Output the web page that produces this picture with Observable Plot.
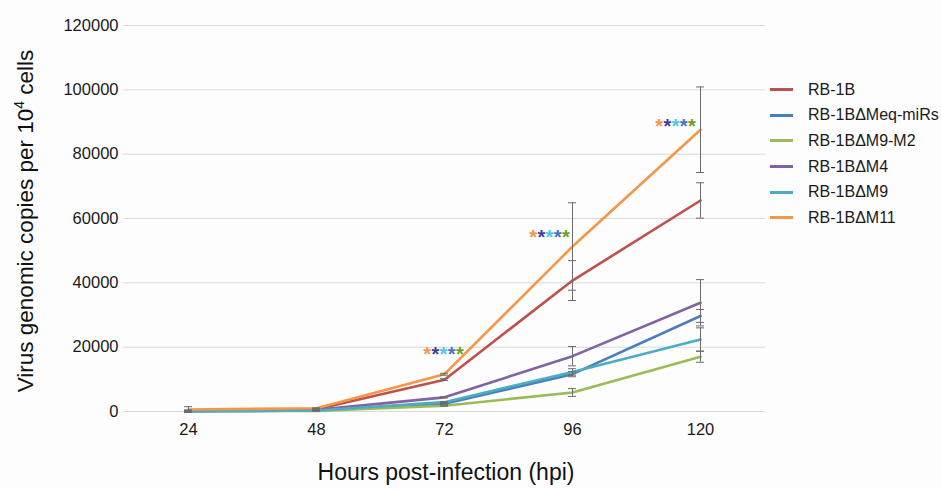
<!DOCTYPE html>
<html>
<head>
<meta charset="utf-8">
<script src="https://cdn.jsdelivr.net/npm/d3@7"></script>
<script src="https://cdn.jsdelivr.net/npm/@observablehq/plot@0.6"></script>
<style>
  html, body { margin: 0; padding: 0; background: #fdfdfd; }
  #wrap { position: relative; width: 941px; height: 489px; font-family: "Liberation Sans", Arial, sans-serif; }
  #wrap svg { position: absolute; left: 0; top: 0; }
  .ylab { position: absolute; left: 26px; top: 221px; transform: translate(-50%, -50%) rotate(-90deg); white-space: nowrap; font-size: 22.5px; color: #111; }
  .ylab sup { font-size: 14px; vertical-align: 9px; line-height: 0; }
  .xlab { position: absolute; left: 446px; top: 472px; transform: translate(-50%, -50%); white-space: nowrap; font-size: 23px; color: #111; }
  .legend { position: absolute; left: 770px; top: 77px; font-size: 16px; color: #1a1a1a; }
  .legend .row { display: flex; align-items: center; height: 25.6px; }
  .legend .sw { width: 23px; height: 3px; margin-right: 15px; }
</style>
</head>
<body>
<div id="wrap"></div>
<script>
const times = ["24", "48", "72", "96", "120"];
const seriesNames = ["RB-1B", "RB-1BΔMeq-miRs", "RB-1BΔM9-M2", "RB-1BΔM4", "RB-1BΔM9", "RB-1BΔM11"];
const seriesColors = ["#C0504D", "#4A7EBB", "#9BBB59", "#8064A2", "#4BACC6", "#F79646"];

const valRB1B   = [400, 700, 9900, 40700, 65600];
const valMeq    = [100, 300, 2400, 11600, 29700];
const valM9M2   = [100, 200, 1800, 5900, 17000];
const valM4     = [200, 500, 4400, 17200, 33800];
const valM9     = [100, 300, 2900, 12300, 22400];
const valM11    = [600, 1000, 11600, 51300, 87600];

const errRB1B   = [100, 100, 300, 6200, 5500];
const errMeq    = [50, 50, 150, 800, 2000];
const errM9M2   = [50, 50, 150, 1200, 1700];
const errM4     = [50, 100, 200, 3000, 7200];
const errM9     = [50, 50, 150, 1000, 3600];
const errM11    = [900, 150, 300, 13600, 13300];

const allVals = [valRB1B, valMeq, valM9M2, valM4, valM9, valM11];
const allErrs = [errRB1B, errMeq, errM9M2, errM4, errM9, errM11];

const sigTimes = ["72", "96", "120"];
const sigY = [19300, 55700, 90200];
const sigShift = [-1, -23, -25];
const starColors = ["#F79646", "#3F3D99", "#4BC8E8", "#4472C4", "#6AA121"];

const yTicks = [0, 20000, 40000, 60000, 80000, 100000, 120000];

const rows = [];
seriesNames.forEach((s, i) => {
  times.forEach((t, j) => {
    rows.push({series: s, x: t, y: allVals[i][j], lo: allVals[i][j] - allErrs[i][j], hi: allVals[i][j] + allErrs[i][j]});
  });
});

const stars = sigTimes.map((t, k) => ({x: t, y: sigY[k]}));

const marks = [
  Plot.gridY(yTicks, {stroke: "#d9d9d9", strokeOpacity: 1, strokeWidth: 1}),
  Plot.axisY(yTicks, {tickSize: 0, tickPadding: 5, fontSize: 16.5, fill: "#1a1a1a", label: null, tickFormat: d => String(d)}),
  Plot.axisX(times, {tickSize: 0, tickPadding: 12, fontSize: 16.5, fill: "#1a1a1a", label: null}),
  Plot.line(rows, {x: "x", y: "y", z: "series", stroke: "series", strokeWidth: 2.6, curve: "linear"}),
  Plot.ruleX(rows, {x: "x", y1: "lo", y2: "hi", stroke: "#6b6b6b", strokeWidth: 1}),
  Plot.ruleY(rows, {y: "lo", x1: "x", x2: "x", insetLeft: -4, insetRight: -4, stroke: "#6b6b6b", strokeWidth: 1}),
  Plot.ruleY(rows, {y: "hi", x1: "x", x2: "x", insetLeft: -4, insetRight: -4, stroke: "#6b6b6b", strokeWidth: 1})
];

sigTimes.forEach((t, k) => {
  starColors.forEach((c, i) => {
    marks.push(Plot.text([stars[k]], {x: "x", y: "y", text: () => "*", fill: c, fontSize: 20, fontWeight: "bold", dx: sigShift[k] + (i - 2) * 8.2, dy: 5}));
  });
});

const chart = Plot.plot({
  width: 941,
  height: 489,
  marginLeft: 123,
  marginRight: 176,
  marginTop: 25,
  marginBottom: 78,
  style: {fontFamily: "'Liberation Sans', Arial, sans-serif", background: "transparent"},
  x: {type: "point", domain: times, padding: 0.5},
  y: {domain: [0, 120000]},
  color: {domain: seriesNames, range: seriesColors},
  marks
});

const wrap = document.getElementById("wrap");
wrap.appendChild(chart);

const yl = document.createElement("div");
yl.className = "ylab";
yl.innerHTML = "Virus genomic copies per 10<sup>4</sup> cells";
wrap.appendChild(yl);

const xl = document.createElement("div");
xl.className = "xlab";
xl.textContent = "Hours post-infection (hpi)";
wrap.appendChild(xl);

const lg = document.createElement("div");
lg.className = "legend";
seriesNames.forEach((s, i) => {
  const r = document.createElement("div");
  r.className = "row";
  const sw = document.createElement("span");
  sw.className = "sw";
  sw.style.background = seriesColors[i];
  const tx = document.createElement("span");
  tx.textContent = s;
  r.appendChild(sw);
  r.appendChild(tx);
  lg.appendChild(r);
});
wrap.appendChild(lg);
</script>
</body>
</html>
